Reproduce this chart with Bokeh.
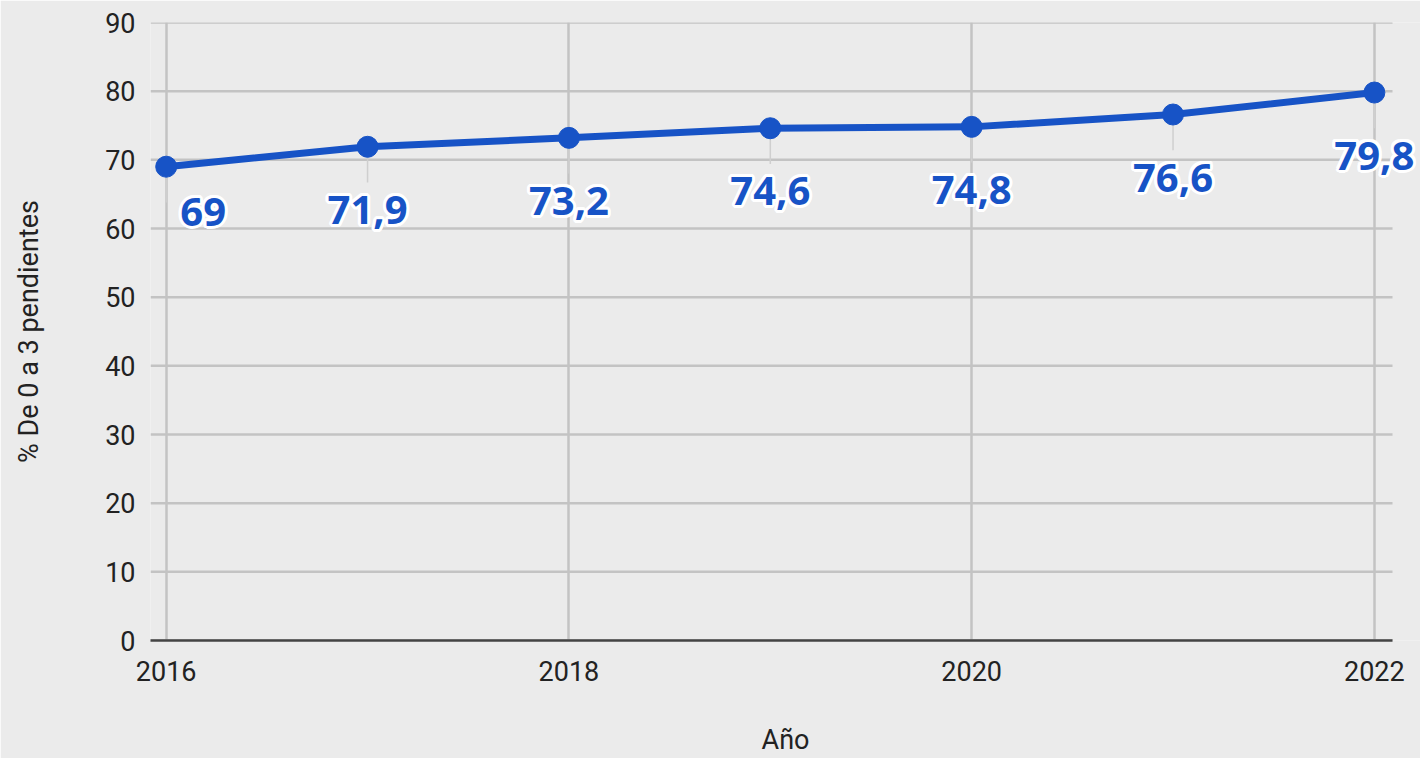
import math
from bokeh.plotting import figure
from bokeh.models import ColumnDataSource, LabelSet, FixedTicker, Range1d
from bokeh.core.properties import value
from bokeh.embed import file_html
from bokeh.resources import INLINE

# ---- data ----
years = [2016, 2017, 2018, 2019, 2020, 2021, 2022]
values = [69, 71.9, 73.2, 74.6, 74.8, 76.6, 79.8]
x_ticks = [2016, 2018, 2020, 2022]
y_ticks = [0, 10, 20, 30, 40, 50, 60, 70, 80, 90]
x_title = "Año"
y_title = "% De 0 a 3 pendientes"

BLUE = "#1753c6"
BG = "#ebebeb"
GRID = "#c3c3c3"

labels = [f"{v:g}".replace(".", ",") for v in values]

# visible plot area in data units; the frame extends further right so the
# last label is not clipped
x_lo, x_hi = 2015.922, 2022.09
px_per_year = (1392 - 150) / (x_hi - x_lo)
x_frame_hi = x_lo + (1420 - 150) / px_per_year

p = figure(width=1420, height=758, output_backend="svg", toolbar_location=None,
           x_range=Range1d(x_lo, x_frame_hi), y_range=Range1d(0, 90),
           min_border_left=150, min_border_right=0, min_border_top=22,
           min_border_bottom=118)
p.background_fill_color = BG
p.border_fill_color = BG
p.outline_line_color = None

# grids: vertical lines via the grid, horizontal lines limited to the plot area
p.xgrid.ticker = FixedTicker(ticks=x_ticks)
p.xgrid.grid_line_color = GRID
p.xgrid.grid_line_width = 2.5
p.ygrid.grid_line_color = None
p.segment(x0=[x_lo] * len(y_ticks), x1=[x_hi] * len(y_ticks),
          y0=y_ticks, y1=y_ticks, line_color=GRID, line_width=2.5,
          level="underlay")

TXT = "27px"
# axes
xa = p.xaxis[0]
xa.ticker = FixedTicker(ticks=x_ticks)
xa.bounds = (x_lo, x_hi)
xa.axis_line_color = "#444444"
xa.axis_line_width = 2.5
xa.major_tick_line_color = None
xa.minor_tick_line_color = None
xa.major_tick_out = 0
xa.major_label_standoff = 20
xa.major_label_text_font = "Roboto"
xa.major_label_text_font_size = TXT
xa.major_label_text_color = "#222222"
xa.axis_label = x_title
xa.axis_label_text_font = "Roboto"
xa.axis_label_text_font_size = TXT
xa.axis_label_text_font_style = "normal"
xa.axis_label_text_color = "#222222"
xa.axis_label_standoff = 40

ya = p.yaxis[0]
ya.ticker = FixedTicker(ticks=y_ticks)
ya.axis_line_color = None
ya.major_tick_line_color = None
ya.minor_tick_line_color = None
ya.major_tick_out = 0
ya.major_label_standoff = 15
ya.major_label_text_font = "Roboto"
ya.major_label_text_font_size = TXT
ya.major_label_text_color = "#222222"
ya.axis_label = y_title
ya.axis_label_text_font = "Roboto"
ya.axis_label_text_font_size = TXT
ya.axis_label_text_font_style = "normal"
ya.axis_label_text_color = "#222222"
ya.axis_label_standoff = 57

# label offsets (first label nudged aside as in the original)
dx = [37 if i == 0 else 0 for i in range(len(values))]
dy = [-59 if i == 0 else -77 for i in range(len(values))]

src = ColumnDataSource(dict(x=years, y=values, lab=labels, dx=dx, dy=dy,
                            lead=[v - 5.2 for v in values]))

# leader lines
p.segment(x0="x", y0="y", x1="x", y1="lead", source=src,
          line_color="#cfcfcf", line_width=1.5)

# line + points
p.line("x", "y", source=src, line_color=BLUE, line_width=7)
p.scatter("x", "y", source=src, size=21, fill_color=BLUE, line_color=BLUE)

# halo labels
n_dir = 16
r = 3
for k in range(n_dir):
    ang = 2 * math.pi * k / n_dir
    ox, oy = r * math.cos(ang), r * math.sin(ang)
    src.data[f"hx{k}"] = [d + ox for d in dx]
    src.data[f"hy{k}"] = [d + oy for d in dy]
    p.add_layout(LabelSet(x="x", y="y", text="lab", source=src,
                          x_offset=f"hx{k}", y_offset=f"hy{k}",
                          text_align="center", text_baseline="alphabetic",
                          text_font=value("Open Sans"), text_font_style="bold",
                          text_font_size="40px", text_color="white"))

p.add_layout(LabelSet(x="x", y="y", text="lab", source=src,
                      x_offset="dx", y_offset="dy",
                      text_align="center", text_baseline="alphabetic",
                      text_font=value("Open Sans"), text_font_style="bold",
                      text_font_size="40px", text_color=BLUE))

open("out.html", "w").write(file_html(p, INLINE))
